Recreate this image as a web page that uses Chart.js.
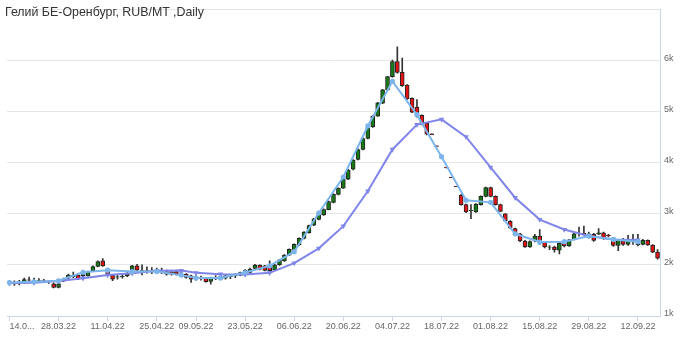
<!DOCTYPE html>
<html><head><meta charset="utf-8">
<script src="https://cdn.jsdelivr.net/npm/chart.js@4/dist/chart.umd.min.js"></script>
<style>
html,body{margin:0;padding:0;background:#fff;}
#wrap{position:relative;width:680px;height:338px;}
#title{position:absolute;left:5px;top:5px;font:12.4px "Liberation Sans",Arial,sans-serif;color:#333;white-space:nowrap;}
</style></head>
<body><div id="wrap"><canvas id="c" width="680" height="338"></canvas><div id="title">Гелий БЕ-Оренбург, RUB/MT ,Daily</div></div>
<script>
const days = ['14.03.22','15.03.22','16.03.22','17.03.22','18.03.22','21.03.22','22.03.22','23.03.22','24.03.22','25.03.22',
'28.03.22','29.03.22','30.03.22','31.03.22','01.04.22','04.04.22','05.04.22','06.04.22','07.04.22','08.04.22',
'11.04.22','12.04.22','13.04.22','14.04.22','15.04.22','18.04.22','19.04.22','20.04.22','21.04.22','22.04.22',
'25.04.22','26.04.22','27.04.22','28.04.22','29.04.22','04.05.22','05.05.22','06.05.22','09.05.22','10.05.22',
'11.05.22','12.05.22','13.05.22','16.05.22','17.05.22','18.05.22','19.05.22','20.05.22','23.05.22','24.05.22',
'25.05.22','26.05.22','27.05.22','30.05.22','31.05.22','01.06.22','02.06.22','03.06.22','06.06.22','07.06.22',
'08.06.22','09.06.22','10.06.22','13.06.22','14.06.22','15.06.22','16.06.22','17.06.22','20.06.22','21.06.22',
'22.06.22','23.06.22','24.06.22','27.06.22','28.06.22','29.06.22','30.06.22','01.07.22','04.07.22','05.07.22',
'06.07.22','07.07.22','08.07.22','11.07.22','12.07.22','13.07.22','14.07.22','15.07.22','18.07.22','19.07.22',
'20.07.22','21.07.22','22.07.22','25.07.22','26.07.22','27.07.22','28.07.22','29.07.22','01.08.22','02.08.22',
'03.08.22','04.08.22','05.08.22','08.08.22','09.08.22','10.08.22','11.08.22','12.08.22','15.08.22','16.08.22',
'17.08.22','18.08.22','19.08.22','22.08.22','23.08.22','24.08.22','25.08.22','26.08.22','29.08.22','30.08.22',
'31.08.22','01.09.22','02.09.22','05.09.22','06.09.22','07.09.22','08.09.22','09.09.22','12.09.22','13.09.22',
'14.09.22','15.09.22','16.09.22'];

const openP = [1645,1650,1640,1665,1710,1700,1690,1695,1680,1630,
1560,1680,1740,1770,1800,1790,1786,1884,1968,2078,
1903,1800,1760,1770,1790,1896,1980,1890,1895,1885,
1896,1880,1870,1865,1870,1865,1819,1786,1745,1740,
1735,1676,1750,1765,1741,1770,1785,1799,1832,1851,
1929,1995,1980,1970,1896,2000,2078,2188,2286,2389,
2519,2629,2778,2890,2980,3082,3225,3380,3502,3677,
3871,4065,4259,4473,4699,4913,5165,5424,5683,5981,
5767,5521,5262,5088,4926,4777,4565,4330,4125,3910,
3715,3540,3360,3179,3060,3036,3179,3341,3515,3341,
3179,2997,2855,2713,2609,2467,2350,2467,2564,2440,
2345,2350,2290,2420,2370,2500,2610,2620,2560,2600,
2600,2630,2580,2480,2380,2470,2400,2470,2390,2400,
2480,2390,2250];

const closeP = [1650,1640,1660,1715,1700,1690,1695,1685,1670,1560,
1630,1720,1800,1800,1730,1830,1864,1968,2065,1981,
1819,1720,1765,1775,1830,1980,1896,1895,1890,1880,
1851,1875,1819,1820,1820,1860,1754,1722,1740,1745,
1670,1741,1755,1770,1786,1775,1790,1851,1896,1916,
1995,1916,1890,1885,2000,2097,2194,2305,2402,2519,
2642,2771,2900,2990,3085,3240,3380,3502,3677,3858,
4052,4259,4473,4686,4913,5172,5424,5683,5981,5767,
5508,5249,4991,4926,4751,4557,4550,4320,4115,3900,
3705,3530,3179,3036,3070,3192,3341,3515,3341,3180,
3049,2868,2726,2596,2467,2350,2454,2564,2434,2350,
2350,2300,2420,2370,2490,2610,2605,2600,2610,2480,
2630,2520,2570,2380,2480,2400,2490,2460,2470,2480,
2390,2250,2130];

const highP = [1700,1690,1700,1740,1760,1740,1730,1720,1700,1650,
1640,1740,1820,1860,1820,1860,1880,1980,2080,2123,
1930,1810,1810,1830,1850,1990,2010,2000,1960,1950,
1940,1940,1900,1890,1900,1900,1830,1800,1790,1780,
1750,1760,1790,1800,1800,1810,1830,1860,1910,1940,
2010,2000,1990,2080,2010,2110,2200,2315,2410,2530,
2650,2780,2910,3000,3095,3250,3390,3510,3690,3870,
4060,4270,4480,4700,4925,5180,5435,5690,6010,6266,
6046,5530,5270,5237,4935,4790,4565,4330,4125,3910,
3715,3540,3380,3190,3180,3200,3350,3525,3525,3350,
3190,3005,2865,2720,2620,2480,2470,2600,2693,2460,
2380,2370,2430,2440,2500,2620,2740,2760,2640,2620,
2710,2640,2600,2500,2500,2520,2580,2600,2600,2500,
2490,2400,2300];

const lowP = [1605,1600,1610,1640,1660,1650,1660,1650,1640,1550,
1550,1670,1730,1750,1710,1760,1780,1870,1960,1970,
1810,1690,1720,1740,1770,1880,1880,1806,1840,1830,
1830,1830,1800,1800,1800,1820,1740,1657,1700,1700,
1660,1625,1710,1720,1720,1730,1750,1790,1820,1840,
1920,1900,1880,1875,1890,1990,2070,2180,2280,2380,
2510,2620,2770,2880,2970,3075,3215,3370,3495,3670,
3860,4055,4250,4465,4690,4905,5155,5415,5675,5750,
5495,5240,4980,4893,4740,4545,4550,4320,4115,3900,
3705,3530,3170,3020,2907,3025,3170,3330,3330,3170,
3040,2855,2715,2585,2455,2340,2340,2450,2400,2330,
2300,2250,2215,2350,2360,2490,2560,2580,2540,2460,
2590,2500,2550,2360,2280,2380,2380,2400,2370,2390,
2380,2240,2110];

const weekDays = ['14.03.22','21.03.22','28.03.22','04.04.22','11.04.22','18.04.22','25.04.22','04.05.22','09.05.22','16.05.22',
'23.05.22','30.05.22','06.06.22','13.06.22','20.06.22','27.06.22','04.07.22','11.07.22','18.07.22','25.07.22',
'01.08.22','08.08.22','15.08.22','22.08.22','29.08.22','05.09.22','12.09.22'];
const fastLine = [1655,1670,1690,1855,1897,1870,1870,1800,1742,1742,1851,1981,2259,3016,3720,4719,5593,4939,4117,3265,3224,2609,2447,2454,2564,2499,2454];
const slowLine = [1645,1650,1685,1740,1800,1838,1884,1890,1845,1819,1810,1845,2035,2324,2758,3445,4259,4745,4849,4505,3910,3315,2887,2693,2564,2499,2486];

const tickDates = ['14.03.22','28.03.22','11.04.22','25.04.22','09.05.22','23.05.22','06.06.22','20.06.22','04.07.22','18.07.22','01.08.22','15.08.22','29.08.22','12.09.22'];
const tickTexts = ['14.0...','28.03.22','11.04.22','25.04.22','09.05.22','23.05.22','06.06.22','20.06.22','04.07.22','18.07.22','01.08.22','15.08.22','29.08.22','12.09.22'];

const GREEN = '#177a17', RED = '#e31414';
const bodyColors = days.map((d, i) => closeP[i] >= openP[i] ? GREEN : RED);
const tickFont = {family: '"Liberation Sans", Arial, sans-serif', size: 9};

new Chart(document.getElementById('c'), {
  data: {
    labels: days,
    datasets: [
      {type: 'line', label: 'fast', data: weekDays.map((d, k) => ({x: d, y: fastLine[k]})),
       borderColor: '#7cb5ec', backgroundColor: '#7cb5ec', borderWidth: 2, pointRadius: 2.6,
       pointBorderWidth: 0, pointStyle: 'circle', tension: 0, order: 0},
      {type: 'line', label: 'slow', data: weekDays.map((d, k) => ({x: d, y: slowLine[k]})),
       borderColor: '#8085e9', backgroundColor: '#8085e9', borderWidth: 2, pointRadius: 3.2,
       pointBorderWidth: 0, pointStyle: 'triangle', rotation: 180, tension: 0, order: 1},
      {type: 'bar', label: 'body', data: days.map((d, i) => [openP[i], closeP[i]]),
       backgroundColor: bodyColors, borderColor: '#222', borderWidth: 1, borderSkipped: false,
       barThickness: 4, grouped: false, order: 2},
      {type: 'bar', label: 'wick', data: days.map((d, i) => [lowP[i], highP[i]]),
       backgroundColor: '#333', borderWidth: 0, barThickness: 1, grouped: false, order: 3}
    ]
  },
  options: {
    responsive: false, animation: false,
    layout: {padding: {left: 7, right: 0, top: 6, bottom: 0}},
    plugins: {legend: {display: false}, tooltip: {enabled: false}, title: {display: false}},
    scales: {
      x: {
        type: 'category', offset: true,
        grid: {display: true, drawOnChartArea: false, drawTicks: true, tickLength: 5, offset: false,
               color: ctx => (ctx.tick && tickDates.includes(days[ctx.index])) ? '#ccd6eb' : 'rgba(0,0,0,0)'},
        border: {display: true, color: '#ccd6eb'},
        ticks: {autoSkip: false, maxRotation: 0, minRotation: 0, align: 'inner', padding: 0, color: '#666', font: tickFont,
                callback: function(v, idx) { const k = tickDates.indexOf(days[idx]); return k >= 0 ? tickTexts[k] : ''; }},
        afterFit: s => { s.height = 22; }
      },
      y: {
        position: 'right', min: 1000, max: 7000,
        grid: {color: '#e6e6e6', drawTicks: false},
        border: {display: true, color: '#ccd6eb'},
        ticks: {stepSize: 1000, padding: 4, labelOffset: -2, color: '#666', font: tickFont,
                callback: v => v === 7000 ? '' : (v / 1000) + 'k'},
        afterFit: s => { s.width = 20; }
      }
    }
  }
});
</script></body></html>
